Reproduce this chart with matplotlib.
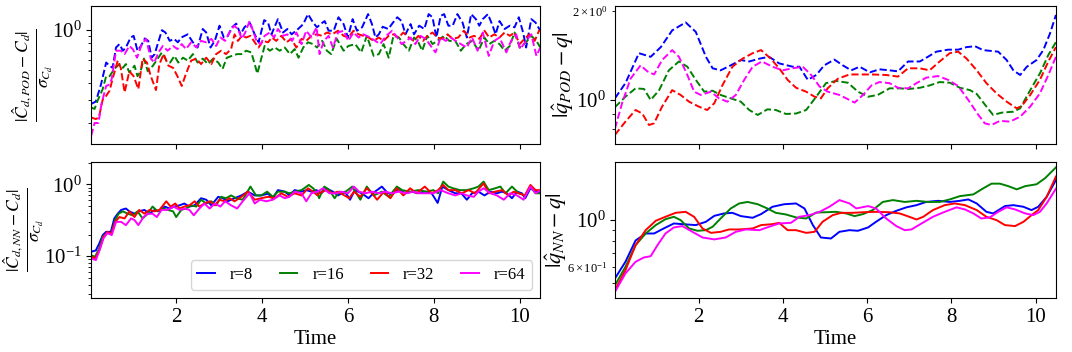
import matplotlib
matplotlib.use("Agg")
import matplotlib.pyplot as plt

plt.rcParams["font.family"] = "serif"
plt.rcParams["font.serif"] = ["Liberation Serif", "DejaVu Serif"]
plt.rcParams["mathtext.fontset"] = "stix"

# ---------------------------------------------------------------------------
# Data: (time, value) pairs per rank r
# ---------------------------------------------------------------------------

RANKS = ["r=8", "r=16", "r=32", "r=64"]
COLORS = ["blue", "green", "red", "magenta"]

# |C_d,POD - C_d| / sigma
cd_pod_r8 = [(0.02, 0.278), (0.13, 0.29), (0.25, 0.39), (0.37, 0.57), (0.45, 0.54), (0.52, 0.52),
             (0.60, 0.74), (0.68, 0.785), (0.76, 0.70), (0.83, 0.74), (0.94, 0.88), (1.01, 0.906),
             (1.10, 0.70), (1.18, 0.76), (1.27, 0.866), (1.35, 0.83), (1.43, 0.62), (1.50, 0.66),
             (1.57, 0.785), (1.67, 1.0), (1.75, 0.96), (1.85, 0.83), (1.95, 0.86), (2.04, 0.81),
             (2.12, 0.88), (2.27, 0.93), (2.39, 0.81), (2.50, 0.74), (2.62, 1.02), (2.70, 0.96),
             (2.80, 0.74), (2.90, 0.83), (3.01, 1.08), (3.11, 0.88), (3.20, 0.90), (3.30, 1.05),
             (3.40, 1.12), (3.50, 0.93), (3.59, 1.05), (3.71, 1.14), (3.83, 0.93), (3.92, 0.81),
             (4.05, 1.19), (4.14, 1.14), (4.22, 0.93), (4.37, 1.21), (4.49, 0.96), (4.59, 1.02),
             (4.69, 0.93), (4.84, 1.02), (4.96, 1.11), (5.07, 1.32), (5.19, 1.14), (5.28, 1.05),
             (5.36, 1.11), (5.46, 1.17), (5.55, 0.99), (5.67, 0.99), (5.78, 1.25), (5.90, 1.11),
             (6.00, 0.88), (6.11, 1.21), (6.21, 0.99), (6.33, 1.05), (6.47, 1.32), (6.56, 1.11),
             (6.64, 0.88), (6.72, 0.93), (6.81, 1.06), (6.94, 1.02), (7.05, 1.14), (7.15, 1.25),
             (7.25, 1.17), (7.34, 0.93), (7.46, 1.11), (7.54, 0.93), (7.66, 1.08), (7.78, 1.02),
             (7.88, 1.32), (7.97, 1.25), (8.06, 0.88), (8.16, 1.28), (8.24, 1.32), (8.34, 1.08),
             (8.44, 1.08), (8.55, 1.32), (8.67, 1.14), (8.77, 0.88), (8.87, 1.32), (8.98, 1.21),
             (9.06, 1.08), (9.14, 1.21), (9.26, 1.32), (9.37, 1.08), (9.44, 0.93), (9.53, 1.17),
             (9.65, 1.02), (9.77, 1.08), (9.88, 1.05), (9.98, 1.25), (10.08, 0.96), (10.15, 0.74),
             (10.27, 1.21), (10.37, 1.14), (10.48, 0.99)]
cd_pod_r16 = [(0.02, 0.262), (0.10, 0.255), (0.17, 0.294), (0.29, 0.36), (0.37, 0.45), (0.45, 0.45),
              (0.56, 0.51), (0.68, 0.555), (0.76, 0.52), (0.83, 0.555), (0.91, 0.48), (1.03, 0.54),
              (1.10, 0.45), (1.17, 0.49), (1.25, 0.61), (1.34, 0.49), (1.46, 0.54), (1.57, 0.61),
              (1.67, 0.68), (1.77, 0.59), (1.86, 0.57), (1.96, 0.64), (2.05, 0.57), (2.16, 0.62),
              (2.27, 0.59), (2.39, 0.66), (2.50, 0.57), (2.62, 0.61), (2.74, 0.555), (2.86, 0.61),
              (2.98, 0.57), (3.08, 0.51), (3.18, 0.62), (3.30, 0.64), (3.42, 0.66), (3.52, 0.66),
              (3.63, 0.70), (3.75, 0.68), (3.83, 0.555), (3.89, 0.47), (3.97, 0.59), (4.06, 0.76),
              (4.18, 0.70), (4.30, 0.74), (4.41, 0.70), (4.53, 0.74), (4.65, 0.66), (4.76, 0.72),
              (4.85, 0.62), (4.96, 0.74), (5.07, 0.81), (5.19, 0.785), (5.28, 0.74), (5.40, 0.83),
              (5.51, 0.70), (5.61, 0.66), (5.74, 0.86), (5.90, 0.70), (6.01, 0.76), (6.17, 0.785),
              (6.31, 0.68), (6.44, 0.906), (6.60, 0.64), (6.72, 0.66), (6.83, 0.785), (6.95, 0.62),
              (7.06, 0.906), (7.19, 0.88), (7.29, 0.785), (7.42, 0.70), (7.54, 0.88), (7.64, 0.81),
              (7.73, 0.70), (7.85, 0.906), (7.97, 0.785), (8.08, 0.83), (8.24, 0.906), (8.36, 0.83),
              (8.50, 0.83), (8.63, 0.70), (8.75, 0.785), (8.90, 0.83), (9.04, 0.70), (9.18, 0.88),
              (9.29, 0.785), (9.41, 0.83), (9.53, 0.785), (9.65, 0.70), (9.77, 0.76), (9.88, 0.96),
              (10.00, 0.74), (10.15, 0.81), (10.27, 0.906), (10.39, 0.83), (10.48, 0.74)]
cd_pod_r32 = [(0.02, 0.22), (0.13, 0.214), (0.20, 0.22), (0.29, 0.30), (0.37, 0.32), (0.45, 0.35),
              (0.52, 0.43), (0.64, 0.59), (0.71, 0.52), (0.80, 0.34), (0.91, 0.49), (1.01, 0.45),
              (1.12, 0.36), (1.22, 0.61), (1.32, 0.57), (1.41, 0.45), (1.53, 0.354), (1.61, 0.555),
              (1.71, 0.66), (1.82, 0.54), (1.93, 0.52), (2.03, 0.45), (2.13, 0.38), (2.23, 0.47),
              (2.35, 0.59), (2.47, 0.61), (2.58, 0.555), (2.70, 0.62), (2.82, 0.555), (2.93, 0.66),
              (3.05, 0.70), (3.16, 0.66), (3.28, 0.72), (3.36, 0.93), (3.44, 0.83), (3.53, 0.906),
              (3.63, 0.88), (3.73, 0.906), (3.83, 0.81), (3.92, 0.74), (4.02, 0.83), (4.14, 0.81),
              (4.23, 0.88), (4.33, 0.83), (4.45, 0.906), (4.57, 0.81), (4.68, 0.86), (4.80, 0.74),
              (4.92, 0.86), (5.03, 0.83), (5.15, 0.906), (5.27, 0.93), (5.40, 0.906), (5.51, 0.96),
              (5.63, 0.93), (5.77, 0.99), (5.90, 0.906), (6.01, 0.88), (6.13, 0.99), (6.25, 0.93),
              (6.36, 0.906), (6.48, 0.88), (6.60, 0.83), (6.72, 0.88), (6.83, 0.83), (6.95, 0.906),
              (7.06, 0.93), (7.18, 0.88), (7.29, 0.96), (7.42, 0.88), (7.54, 0.83), (7.64, 0.906),
              (7.75, 0.83), (7.85, 0.906), (7.97, 0.96), (8.08, 0.88), (8.20, 0.86), (8.32, 0.93),
              (8.44, 0.86), (8.57, 0.88), (8.70, 0.99), (8.83, 0.88), (8.94, 0.906), (9.06, 0.86),
              (9.18, 0.99), (9.29, 0.88), (9.41, 0.93), (9.53, 0.88), (9.65, 0.96), (9.77, 0.906),
              (9.88, 0.96), (10.00, 0.785), (10.11, 0.86), (10.23, 0.93), (10.35, 0.83), (10.45, 0.99),
              (10.50, 0.99)]
cd_pod_r64 = [(0.02, 0.16), (0.10, 0.20), (0.19, 0.20), (0.26, 0.278), (0.37, 0.38), (0.45, 0.39),
              (0.50, 0.43), (0.60, 0.70), (0.71, 0.70), (0.80, 0.66), (0.91, 0.76), (0.99, 0.72),
              (1.09, 0.62), (1.20, 0.785), (1.30, 0.86), (1.41, 0.61), (1.49, 0.57), (1.59, 0.68),
              (1.69, 0.76), (1.80, 0.70), (1.93, 0.76), (2.03, 0.72), (2.13, 0.785), (2.23, 0.72),
              (2.35, 0.81), (2.47, 0.74), (2.58, 0.83), (2.70, 0.81), (2.82, 0.86), (2.93, 0.76),
              (3.03, 0.88), (3.14, 0.83), (3.24, 0.96), (3.35, 1.08), (3.44, 1.02), (3.53, 0.86),
              (3.61, 0.96), (3.71, 1.17), (3.79, 0.99), (3.87, 0.83), (3.97, 0.785), (4.06, 0.906),
              (4.18, 0.96), (4.28, 0.88), (4.37, 1.02), (4.49, 0.906), (4.59, 0.93), (4.70, 0.83),
              (4.80, 0.96), (4.92, 0.785), (5.03, 0.99), (5.15, 0.88), (5.27, 1.05), (5.34, 0.66),
              (5.44, 0.83), (5.55, 0.906), (5.65, 0.74), (5.77, 0.96), (5.90, 0.99), (6.01, 0.83),
              (6.13, 0.96), (6.25, 0.88), (6.36, 0.93), (6.52, 0.88), (6.64, 0.83), (6.75, 0.785),
              (6.89, 0.906), (7.03, 0.99), (7.15, 0.88), (7.25, 0.785), (7.36, 0.83), (7.46, 0.88),
              (7.57, 0.785), (7.69, 0.906), (7.81, 0.86), (7.93, 0.76), (8.04, 0.68), (8.16, 0.88),
              (8.28, 0.83), (8.39, 0.88), (8.51, 0.83), (8.63, 0.785), (8.77, 0.74), (8.89, 0.88),
              (9.02, 0.70), (9.14, 0.96), (9.28, 0.64), (9.41, 0.83), (9.53, 0.88), (9.69, 0.68),
              (9.80, 0.83), (9.92, 0.93), (10.01, 0.72), (10.15, 0.83), (10.27, 0.93), (10.39, 0.64),
              (10.48, 0.74)]

# |C_d,NN - C_d| / sigma
cd_nn_r8 = [(0.02, 0.115), (0.13, 0.12), (0.21, 0.15), (0.29, 0.196), (0.37, 0.218), (0.48, 0.218),
            (0.56, 0.335), (0.64, 0.39), (0.72, 0.44), (0.83, 0.46), (0.91, 0.42), (1.03, 0.39),
            (1.14, 0.42), (1.26, 0.44), (1.38, 0.39), (1.50, 0.44), (1.61, 0.42), (1.73, 0.49),
            (1.85, 0.46), (1.96, 0.49), (2.08, 0.51), (2.19, 0.54), (2.31, 0.49), (2.43, 0.51),
            (2.58, 0.64), (2.70, 0.61), (2.82, 0.51), (2.98, 0.67), (3.09, 0.64), (3.20, 0.58),
            (3.36, 0.64), (3.52, 0.70), (3.67, 0.79), (3.83, 0.70), (3.98, 0.70), (4.14, 0.74),
            (4.25, 0.64), (4.37, 0.83), (4.53, 0.79), (4.64, 0.70), (4.76, 0.83), (4.92, 0.79),
            (5.03, 0.83), (5.15, 0.79), (5.27, 0.83), (5.38, 0.75), (5.50, 0.88), (5.65, 0.79),
            (5.77, 0.70), (5.93, 0.79), (6.05, 0.61), (6.16, 0.83), (6.32, 0.75), (6.48, 0.64),
            (6.63, 0.79), (6.79, 0.93), (6.93, 0.75), (7.06, 0.75), (7.19, 0.88), (7.33, 0.75),
            (7.48, 0.79), (7.64, 0.75), (7.79, 0.79), (7.95, 0.75), (8.09, 0.55), (8.20, 0.93),
            (8.34, 0.83), (8.50, 0.75), (8.64, 0.75), (8.77, 0.61), (8.89, 0.75), (9.04, 0.79),
            (9.18, 0.70), (9.32, 0.79), (9.47, 0.75), (9.59, 0.79), (9.70, 0.75), (9.82, 0.64),
            (9.94, 0.79), (10.05, 0.75), (10.13, 0.64), (10.25, 0.88), (10.37, 0.79), (10.50, 0.75)]
cd_nn_r16 = [(0.02, 0.103), (0.11, 0.098), (0.21, 0.128), (0.29, 0.186), (0.40, 0.21), (0.49, 0.205),
             (0.58, 0.318), (0.66, 0.39), (0.76, 0.42), (0.87, 0.39), (0.99, 0.37), (1.10, 0.42),
             (1.22, 0.335), (1.34, 0.39), (1.45, 0.49), (1.57, 0.42), (1.69, 0.46), (1.81, 0.44),
             (1.93, 0.42), (2.00, 0.35), (2.12, 0.44), (2.23, 0.46), (2.35, 0.51), (2.47, 0.49),
             (2.58, 0.61), (2.70, 0.54), (2.82, 0.58), (2.93, 0.51), (3.05, 0.67), (3.16, 0.64),
             (3.28, 0.70), (3.40, 0.64), (3.55, 0.61), (3.73, 0.93), (3.86, 0.70), (3.98, 0.70),
             (4.12, 0.79), (4.25, 0.67), (4.37, 0.79), (4.53, 0.79), (4.64, 0.75), (4.76, 0.79),
             (4.92, 0.83), (5.09, 0.98), (5.19, 0.88), (5.29, 0.75), (5.33, 0.64), (5.45, 0.93),
             (5.57, 0.83), (5.69, 0.64), (5.80, 0.79), (5.90, 0.75), (6.10, 0.93), (6.29, 0.61),
             (6.44, 0.93), (6.60, 0.70), (6.79, 0.79), (6.95, 0.67), (7.14, 0.93), (7.26, 0.83),
             (7.45, 0.79), (7.64, 0.83), (7.83, 0.79), (7.99, 0.83), (8.10, 0.75), (8.22, 1.09),
             (8.34, 0.93), (8.45, 0.88), (8.61, 0.83), (8.77, 0.83), (8.93, 0.88), (9.04, 0.93),
             (9.16, 1.09), (9.28, 0.83), (9.43, 0.88), (9.55, 0.93), (9.67, 0.75), (9.82, 0.93),
             (9.98, 0.75), (10.13, 0.70), (10.25, 0.93), (10.37, 0.75), (10.50, 0.75)]
cd_nn_r32 = [(0.02, 0.098), (0.11, 0.093), (0.21, 0.12), (0.31, 0.186), (0.40, 0.218), (0.49, 0.205),
             (0.58, 0.30), (0.68, 0.35), (0.80, 0.335), (0.91, 0.42), (1.03, 0.35), (1.14, 0.44),
             (1.26, 0.39), (1.38, 0.44), (1.50, 0.42), (1.61, 0.44), (1.77, 0.58), (1.87, 0.49),
             (1.98, 0.54), (2.08, 0.46), (2.19, 0.49), (2.31, 0.51), (2.43, 0.58), (2.54, 0.49),
             (2.66, 0.54), (2.78, 0.58), (2.90, 0.51), (3.01, 0.61), (3.13, 0.58), (3.24, 0.64),
             (3.36, 0.58), (3.52, 0.67), (3.67, 0.79), (3.83, 0.61), (3.98, 0.64), (4.14, 0.67),
             (4.29, 0.64), (4.45, 0.75), (4.60, 0.67), (4.76, 0.75), (4.92, 0.70), (5.07, 0.88),
             (5.19, 0.79), (5.29, 0.70), (5.33, 0.75), (5.49, 0.83), (5.65, 0.75), (5.76, 0.79),
             (5.92, 0.70), (6.03, 0.64), (6.14, 0.79), (6.29, 0.67), (6.44, 0.88), (6.56, 0.75),
             (6.68, 0.61), (6.84, 0.79), (6.99, 0.64), (7.14, 0.88), (7.29, 0.70), (7.45, 0.88),
             (7.60, 0.75), (7.79, 0.93), (7.95, 0.75), (8.10, 0.83), (8.22, 0.98), (8.34, 0.83),
             (8.50, 0.83), (8.65, 0.75), (8.81, 0.83), (8.96, 0.75), (9.16, 1.03), (9.28, 0.75),
             (9.43, 0.79), (9.59, 0.83), (9.74, 0.70), (9.86, 0.79), (9.98, 0.75), (10.12, 0.70),
             (10.25, 0.98), (10.37, 0.83), (10.50, 0.83)]
cd_nn_r64 = [(0.02, 0.093), (0.13, 0.088), (0.23, 0.128), (0.31, 0.178), (0.40, 0.21), (0.50, 0.196),
             (0.60, 0.30), (0.72, 0.30), (0.83, 0.27), (0.95, 0.335), (1.03, 0.318), (1.12, 0.27),
             (1.24, 0.35), (1.34, 0.39), (1.45, 0.39), (1.55, 0.35), (1.66, 0.44), (1.80, 0.44),
             (1.94, 0.49), (2.08, 0.44), (2.20, 0.46), (2.31, 0.44), (2.41, 0.37), (2.54, 0.46),
             (2.66, 0.54), (2.78, 0.46), (2.90, 0.54), (3.03, 0.49), (3.14, 0.58), (3.28, 0.51),
             (3.42, 0.46), (3.55, 0.58), (3.71, 0.75), (3.83, 0.54), (3.95, 0.61), (4.10, 0.58),
             (4.25, 0.61), (4.41, 0.70), (4.53, 0.64), (4.64, 0.67), (4.76, 0.79), (4.92, 0.75),
             (5.03, 0.58), (5.15, 0.75), (5.29, 0.79), (5.42, 0.88), (5.57, 0.75), (5.73, 0.75),
             (5.84, 0.79), (6.00, 0.75), (6.14, 0.93), (6.26, 0.79), (6.41, 0.75), (6.56, 0.79),
             (6.72, 0.75), (6.87, 0.79), (7.03, 0.75), (7.18, 0.79), (7.37, 0.75), (7.52, 0.79),
             (7.68, 0.75), (7.83, 0.75), (7.99, 0.75), (8.16, 0.83), (8.34, 0.75), (8.50, 0.70),
             (8.65, 0.75), (8.77, 0.70), (8.93, 0.67), (9.04, 0.79), (9.16, 0.88), (9.32, 0.75),
             (9.47, 0.70), (9.63, 0.61), (9.78, 0.75), (9.94, 0.70), (10.09, 0.61), (10.25, 0.93),
             (10.37, 0.75), (10.50, 0.83)]

# |q_POD - q|
q_pod_r8 = [(0.01, 1.013), (0.26, 1.14), (0.58, 1.44), (0.86, 1.40), (1.10, 1.51), (1.37, 1.72),
            (1.69, 1.83), (1.93, 1.70), (2.17, 1.40), (2.33, 1.28), (2.52, 1.26), (2.76, 1.31),
            (3.00, 1.365), (3.20, 1.35), (3.44, 1.38), (3.67, 1.40), (3.91, 1.33), (4.23, 1.296),
            (4.39, 1.296), (4.59, 1.17), (4.79, 1.215), (4.98, 1.31), (5.22, 1.37), (5.42, 1.31),
            (5.62, 1.26), (5.82, 1.296), (6.06, 1.24), (6.29, 1.27), (6.53, 1.26), (6.73, 1.25),
            (6.97, 1.35), (7.25, 1.35), (7.44, 1.40), (7.64, 1.457), (7.92, 1.48), (8.16, 1.48),
            (8.36, 1.51), (8.56, 1.52), (8.75, 1.475), (9.11, 1.457), (9.31, 1.365), (9.47, 1.26),
            (9.63, 1.215), (9.79, 1.296), (10.02, 1.365), (10.18, 1.475), (10.34, 1.68), (10.48, 1.94)]
q_pod_r16 = [(0.01, 0.945), (0.26, 1.026), (0.50, 1.095), (0.70, 1.09), (0.86, 1.0), (1.06, 1.08),
             (1.29, 1.26), (1.53, 1.35), (1.73, 1.296), (1.93, 1.17), (2.13, 1.067), (2.33, 1.075),
             (2.52, 1.04), (2.76, 1.013), (3.00, 0.987), (3.20, 0.925), (3.40, 0.89), (3.63, 0.93),
             (3.83, 0.925), (4.07, 0.897), (4.31, 0.90), (4.55, 0.925), (4.79, 1.026), (5.02, 1.14),
             (5.26, 1.16), (5.54, 1.144), (5.78, 1.067), (6.02, 1.026), (6.25, 1.04), (6.53, 1.095),
             (6.77, 1.095), (7.00, 1.09), (7.25, 1.10), (7.48, 1.12), (7.72, 1.15), (7.96, 1.144),
             (8.20, 1.10), (8.44, 1.08), (8.60, 1.048), (8.83, 0.95), (8.99, 0.89), (9.19, 0.906),
             (9.47, 0.913), (9.63, 0.937), (9.87, 1.08), (10.10, 1.23), (10.30, 1.42), (10.48, 1.57)]
q_pod_r32 = [(0.01, 0.762), (0.26, 0.845), (0.50, 0.925), (0.66, 0.90), (0.82, 0.823), (0.94, 0.834),
             (1.13, 0.95), (1.37, 1.08), (1.57, 1.04), (1.77, 0.987), (2.00, 0.95), (2.20, 0.925),
             (2.37, 0.975), (2.56, 1.12), (2.80, 1.296), (3.04, 1.38), (3.28, 1.44), (3.48, 1.475),
             (3.71, 1.38), (3.91, 1.28), (4.11, 1.17), (4.31, 1.10), (4.55, 1.067), (4.75, 1.026),
             (4.90, 1.013), (5.06, 1.095), (5.30, 1.18), (5.58, 1.22), (5.86, 1.22), (6.13, 1.22),
             (6.45, 1.215), (6.73, 1.20), (6.97, 1.28), (7.25, 1.28), (7.48, 1.26), (7.72, 1.35),
             (7.96, 1.44), (8.16, 1.457), (8.36, 1.38), (8.60, 1.26), (8.83, 1.14), (9.07, 1.053),
             (9.31, 0.987), (9.55, 0.937), (9.67, 0.955), (9.87, 1.04), (10.10, 1.17), (10.30, 1.35),
             (10.48, 1.51)]
q_pod_r64 = [(0.01, 0.80), (0.18, 0.975), (0.38, 1.18), (0.62, 1.31), (0.78, 1.25), (0.94, 1.22),
             (1.13, 1.365), (1.37, 1.475), (1.53, 1.40), (1.73, 1.215), (1.89, 1.067), (2.05, 1.04),
             (2.29, 1.067), (2.48, 1.013), (2.68, 0.987), (2.88, 1.04), (3.08, 1.17), (3.28, 1.296),
             (3.50, 1.35), (3.75, 1.296), (3.99, 1.26), (4.23, 1.28), (4.47, 1.296), (4.67, 1.215),
             (4.87, 1.11), (5.06, 1.067), (5.34, 1.04), (5.58, 1.0), (5.70, 0.98), (5.90, 1.04),
             (6.10, 1.12), (6.29, 1.15), (6.53, 1.14), (6.73, 1.10), (6.97, 1.095), (7.17, 1.14),
             (7.40, 1.19), (7.68, 1.205), (7.92, 1.17), (8.16, 1.115), (8.40, 1.0), (8.64, 0.89),
             (8.79, 0.834), (8.95, 0.823), (9.15, 0.85), (9.39, 0.845), (9.63, 0.878), (9.87, 0.95),
             (10.10, 1.053), (10.30, 1.215), (10.48, 1.40)]

# |q_NN - q|
q_nn_r8 = [(0.01, 0.528), (0.26, 0.634), (0.50, 0.80), (0.74, 0.864), (0.94, 0.864), (1.17, 0.913),
           (1.41, 0.964), (1.61, 0.957), (1.93, 0.947), (2.17, 0.982), (2.37, 1.048), (2.60, 1.076),
           (2.80, 1.083), (3.00, 1.045), (3.28, 1.026), (3.48, 1.068), (3.75, 1.157), (4.03, 1.19),
           (4.31, 1.20), (4.51, 1.136), (4.71, 0.947), (4.90, 0.827), (5.14, 0.818), (5.34, 0.88),
           (5.58, 0.896), (5.78, 0.89), (6.02, 0.923), (6.21, 0.982), (6.45, 1.056), (6.69, 1.107),
           (6.93, 1.15), (7.17, 1.178), (7.40, 1.22), (7.68, 1.235), (7.96, 1.22), (8.20, 1.235),
           (8.40, 1.254), (8.60, 1.20), (8.83, 1.095), (8.99, 1.076), (9.27, 1.166), (9.47, 1.178),
           (9.71, 1.157), (9.90, 1.116), (10.06, 1.157), (10.26, 1.29), (10.48, 1.55)]
q_nn_r16 = [(0.01, 0.49), (0.26, 0.60), (0.50, 0.76), (0.74, 0.864), (0.98, 0.947), (1.21, 1.01),
            (1.41, 1.037), (1.57, 1.0), (1.77, 0.913), (1.97, 0.89), (2.17, 0.896), (2.33, 0.93),
            (2.52, 1.018), (2.76, 1.136), (2.96, 1.20), (3.16, 1.22), (3.40, 1.19), (3.63, 1.136),
            (3.83, 1.083), (4.07, 1.064), (4.31, 1.03), (4.55, 1.018), (4.79, 1.087), (5.02, 1.09),
            (5.26, 1.095), (5.50, 1.076), (5.70, 1.045), (5.90, 1.068), (6.13, 1.116), (6.37, 1.22),
            (6.61, 1.245), (6.89, 1.22), (7.17, 1.235), (7.44, 1.22), (7.72, 1.22), (7.96, 1.254),
            (8.20, 1.30), (8.52, 1.325), (8.75, 1.414), (8.95, 1.49), (9.15, 1.49), (9.35, 1.45),
            (9.55, 1.40), (9.75, 1.45), (10.02, 1.48), (10.22, 1.58), (10.48, 1.78)]
q_nn_r32 = [(0.01, 0.465), (0.26, 0.578), (0.50, 0.76), (0.74, 0.896), (0.98, 0.993), (1.21, 1.037),
            (1.45, 1.083), (1.69, 1.095), (1.89, 1.037), (2.09, 0.913), (2.29, 0.87), (2.52, 0.88),
            (2.72, 0.903), (2.96, 0.903), (3.28, 0.913), (3.48, 0.947), (3.75, 0.957), (3.91, 0.971),
            (4.11, 0.896), (4.31, 0.896), (4.55, 0.87), (4.75, 0.88), (4.94, 0.982), (5.18, 1.056),
            (5.38, 1.083), (5.66, 1.083), (5.90, 1.09), (6.21, 1.095), (6.53, 1.09), (6.77, 1.076),
            (7.00, 1.037), (7.17, 1.007), (7.33, 1.037), (7.56, 1.116), (7.84, 1.178), (8.08, 1.20),
            (8.32, 1.178), (8.60, 1.116), (8.83, 1.037), (9.07, 1.0), (9.27, 0.947), (9.51, 0.937),
            (9.71, 0.982), (9.90, 1.056), (10.06, 1.116), (10.26, 1.29), (10.48, 1.61)]
q_nn_r64 = [(0.01, 0.456), (0.26, 0.558), (0.50, 0.634), (0.70, 0.665), (0.86, 0.674), (1.02, 0.76),
            (1.21, 0.864), (1.41, 0.923), (1.61, 0.937), (1.85, 0.88), (2.09, 0.827), (2.37, 0.81),
            (2.64, 0.827), (2.88, 0.88), (3.12, 0.903), (3.44, 0.896), (3.67, 0.93), (3.91, 0.964),
            (4.19, 0.971), (4.39, 1.037), (4.63, 1.056), (4.87, 1.095), (5.10, 1.157), (5.34, 1.245),
            (5.58, 1.20), (5.74, 1.136), (6.02, 1.166), (6.21, 1.136), (6.45, 1.018), (6.69, 0.937),
            (6.89, 0.896), (7.05, 0.903), (7.29, 0.964), (7.56, 1.037), (7.84, 1.095), (8.12, 1.15),
            (8.32, 1.124), (8.52, 1.076), (8.71, 1.018), (8.91, 1.03), (9.11, 1.095), (9.31, 1.15),
            (9.51, 1.124), (9.75, 1.076), (9.94, 1.056), (10.10, 1.095), (10.26, 1.20), (10.48, 1.41)]

# ---------------------------------------------------------------------------
# Plot
# ---------------------------------------------------------------------------

fig = plt.figure(figsize=(10.72, 3.52), dpi=100)
ax_tl = fig.add_axes([0.085, 0.591, 0.419, 0.392])
ax_bl = fig.add_axes([0.085, 0.153, 0.419, 0.387])
ax_tr = fig.add_axes([0.574, 0.591, 0.411, 0.392])
ax_br = fig.add_axes([0.574, 0.153, 0.411, 0.387])

# axis, series, linestyle, y label, label size, label x (axes coords), y limits
panels = [
    (ax_tl, [cd_pod_r8, cd_pod_r16, cd_pod_r32, cd_pod_r64], "--",
     r"$\frac{|\hat{C}_{d,POD} - C_d|}{\sigma_{C_d}}$", 18, -0.080, (0.139, 1.52)),
    (ax_bl, [cd_nn_r8, cd_nn_r16, cd_nn_r32, cd_nn_r64], "-",
     r"$\frac{|\hat{C}_{d,NN} - C_d|}{\sigma_{C_d}}$", 18, -0.100, (0.026, 2.05)),
    (ax_tr, [q_pod_r8, q_pod_r16, q_pod_r32, q_pod_r64], "--",
     r"$|\hat{q}_{POD} - q|$", 16, -0.090, (0.71, 2.08)),
    (ax_br, [q_nn_r8, q_nn_r16, q_nn_r32, q_nn_r64], "-",
     r"$|\hat{q}_{NN} - q|$", 16, -0.105, (0.426, 1.89)),
]

for ax, series, ls, ylabel, lsize, lx, ylim in panels:
    for pts, color, label in zip(series, COLORS, RANKS):
        t, v = zip(*pts)
        ax.plot(t, v, ls, color=color, linewidth=1.4, label=label)
    ax.set_yscale("log")
    ax.set_xlim(0.02, 10.48)
    ax.set_ylim(*ylim)
    ax.set_xticks([2, 4, 6, 8, 10])
    ax.set_ylabel(ylabel, fontsize=lsize)
    ax.yaxis.set_label_coords(lx, 0.5)
    ax.tick_params(axis="both", which="major", labelsize=15)
    ax.tick_params(axis="y", which="minor", labelsize=9)

for ax in (ax_tl, ax_tr):
    ax.tick_params(axis="x", labelbottom=False)
for ax in (ax_bl, ax_br):
    ax.set_xlabel("Time", fontsize=15, labelpad=2)

ax_bl.legend(loc="lower right", ncol=4, fontsize=12, handlelength=1.05,
             handletextpad=0.9, columnspacing=1.6)

fig.savefig("out.png", dpi=100)
